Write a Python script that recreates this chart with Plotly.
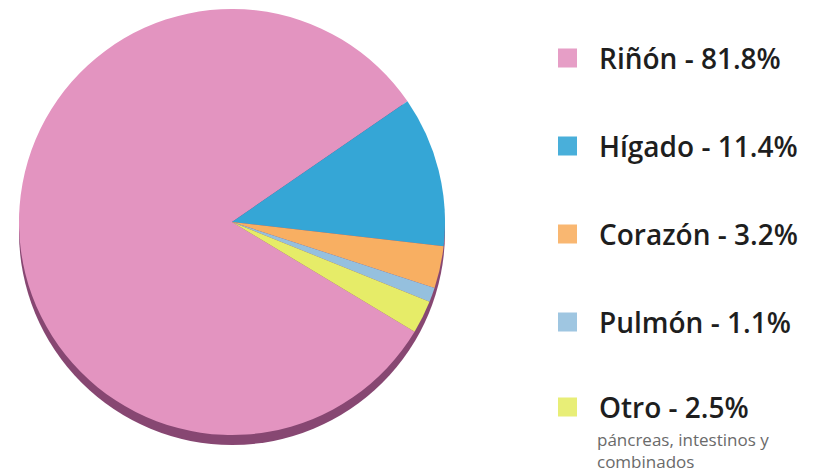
import plotly.graph_objects as go

# Data
labels = ["Riñón", "Hígado", "Corazón", "Pulmón", "Otro"]
values = [81.8, 11.4, 3.2, 1.1, 2.5]
colors = ["#e394c0", "#35a6d6", "#f8af62", "#95c0de", "#e6ec68"]
note_otro = ["páncreas, intestinos y", "combinados"]

# The page body has an 8px margin, so the figure is sized to fit inside the window
OFF = 8
W, H = 815 - OFF, 473 - OFF

def px_x(x):
    return (x - OFF) / W

def px_y(y):
    return 1 - (y - OFF) / H

cx, cy, r = 232, 222, 213
shadow_dy = 10

fig = go.Figure()

# dark rim behind the pie
fig.add_trace(go.Pie(
    values=[1], labels=["rim"], marker=dict(colors=["#874772"], line=dict(width=0)),
    textinfo="none", hoverinfo="skip", showlegend=False, sort=False,
    domain=dict(x=[px_x(cx - r), px_x(cx + r)],
                y=[px_y(cy + shadow_dy + r), px_y(cy + shadow_dy - r)]),
))

fig.add_trace(go.Pie(
    labels=labels, values=values, sort=False, direction="clockwise", rotation=121,
    marker=dict(colors=colors, line=dict(width=0)),
    textinfo="none", showlegend=False,
    domain=dict(x=[px_x(cx - r), px_x(cx + r)], y=[px_y(cy + r), px_y(cy - r)]),
))

# custom legend
row_y = [58, 146, 234, 322, 407]
sq_x0, sq_size, text_x = 558, 19, 597
shapes = []
annotations = []
for lab, val, col, yy in zip(labels, values, colors, row_y):
    shapes.append(dict(type="rect", xref="paper", yref="paper",
                       x0=px_x(sq_x0), x1=px_x(sq_x0 + sq_size),
                       y0=px_y(yy + sq_size / 2), y1=px_y(yy - sq_size / 2),
                       fillcolor=col, line=dict(width=0), opacity=0.9))
    annotations.append(dict(xref="paper", yref="paper", x=px_x(text_x), y=px_y(yy),
                            xanchor="left", yanchor="middle", showarrow=False,
                            text=f"{lab} - {val}%",
                            font=dict(family="Open Sans", size=28, color="#1e1e1e", weight=600)))

for line, yy in zip(note_otro, [439, 461]):
    annotations.append(dict(xref="paper", yref="paper", x=px_x(text_x - 2), y=px_y(yy),
                            xanchor="left", yanchor="middle", showarrow=False, align="left",
                            text=line,
                            font=dict(family="Open Sans", size=17, color="#6a6a6a")))

fig.update_layout(
    width=W, height=H, margin=dict(l=0, r=0, t=0, b=0),
    paper_bgcolor="white", plot_bgcolor="white",
    shapes=shapes, annotations=annotations,
)

fig.write_html("out.html")
